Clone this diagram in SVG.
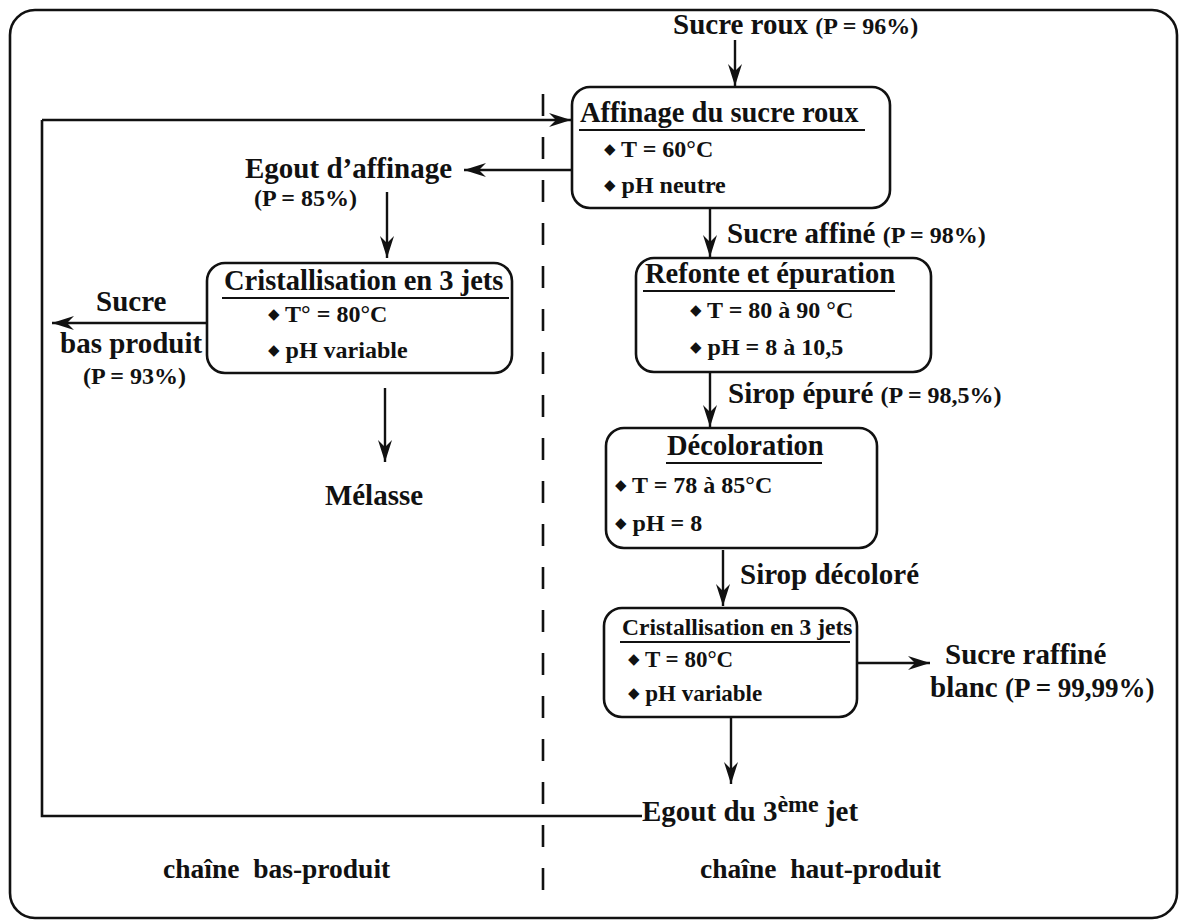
<svg xmlns="http://www.w3.org/2000/svg" width="1181" height="924" viewBox="0 0 1181 924">
<style>
.t{font-family:"Liberation Serif","Times New Roman",serif;font-weight:bold;fill:#111}
.lbl{font-size:29px}
.ft{font-size:27.5px}
.ttl{font-size:28.5px}
.ttl2{font-size:23.5px}
.p{font-size:24px}
.p2{font-size:27px}
.b{font-size:24px}
.b2{font-size:23px}
.dot{font-family:"DejaVu Sans",sans-serif;font-size:15px;baseline-shift:3px}
.box{fill:none;stroke:#111;stroke-width:2.6}
.ln{fill:none;stroke:#111;stroke-width:2.6}
.ul{stroke:#111;stroke-width:2.2}
.arr{fill:none;stroke:#111;stroke-width:2.4;marker-end:url(#ah)}
</style>
<defs>
<marker id="ah" markerUnits="userSpaceOnUse" markerWidth="26" markerHeight="16" refX="22" refY="7" orient="auto">
<path d="M0,0 L22,7 L0,14 L7,7 z" fill="#111"/>
</marker>
</defs>
<rect width="1181" height="924" fill="#fff"/>
<rect id="frame" class="box" x="10" y="10" width="1167" height="908" rx="25"/>

<g id="connectors">
<path class="ln" d="M42,120 L42,816 L642,816"/>
<path class="arr" d="M42,120 L571,120"/>
<line x1="543" y1="94" x2="543" y2="900" stroke="#111" stroke-width="2.6" stroke-dasharray="22 21"/>
<path class="arr" d="M735,40 L735,86"/>
<path class="arr" d="M572,170 L464,170"/>
<path class="arr" d="M387,192 L387,258"/>
<path class="arr" d="M207,323 L52,323"/>
<path class="arr" d="M385,388 L385,462"/>
<path class="arr" d="M710,208 L710,257"/>
<path class="arr" d="M710,372 L710,427"/>
<path class="arr" d="M723,550 L723,606"/>
<path class="arr" d="M857,663 L930,663"/>
<path class="arr" d="M731,718 L731,784"/>
</g>

<g id="sucre-roux"><text class="t lbl" x="673" y="34">Sucre roux <tspan class="p">(P = 96%)</tspan></text></g>

<g id="affinage">
<rect class="box" x="572" y="87" width="318" height="121" rx="18"/>
<text class="t ttl" x="580" y="122">Affinage du sucre roux</text>
<line class="ul" x1="579" y1="130" x2="865" y2="130"/>
<text class="t b" x="604" y="157"><tspan class="dot">◆</tspan> T = 60°C</text>
<text class="t b" x="604" y="193"><tspan class="dot">◆</tspan> pH neutre</text>
</g>

<g id="egout-affinage">
<text class="t lbl" x="245" y="178">Egout d’affinage</text>
<text class="t p" x="254" y="206">(P = 85%)</text>
</g>

<g id="cristallisation-bas">
<rect class="box" x="207" y="263" width="305" height="110" rx="18"/>
<text class="t ttl" x="224" y="290">Cristallisation en 3 jets</text>
<line class="ul" x1="222" y1="298" x2="509" y2="298"/>
<text class="t b" x="268" y="322"><tspan class="dot">◆</tspan> T° = 80°C</text>
<text class="t b" x="268" y="358"><tspan class="dot">◆</tspan> pH variable</text>
</g>

<g id="sucre-bas-produit">
<text class="t lbl" x="96" y="311">Sucre</text>
<text class="t lbl" x="60" y="353">bas produit</text>
<text class="t p" x="83" y="384">(P = 93%)</text>
</g>

<g id="melasse"><text class="t lbl" x="374" y="505" text-anchor="middle">Mélasse</text></g>

<g id="sucre-affine"><text class="t lbl" x="727" y="243">Sucre affiné <tspan class="p">(P = 98%)</tspan></text></g>

<g id="refonte">
<rect class="box" x="636" y="258" width="295" height="114" rx="18"/>
<text class="t ttl" x="645" y="283">Refonte et épuration</text>
<line class="ul" x1="643" y1="291" x2="895" y2="291"/>
<text class="t b" x="690" y="318"><tspan class="dot">◆</tspan> T = 80 à 90 °C</text>
<text class="t b" x="690" y="355"><tspan class="dot">◆</tspan> pH = 8 à 10,5</text>
</g>

<g id="sirop-epure"><text class="t lbl" x="728" y="403">Sirop épuré <tspan class="p">(P = 98,5%)</tspan></text></g>

<g id="decoloration">
<rect class="box" x="606" y="428" width="271" height="120" rx="18"/>
<text class="t ttl" x="667" y="455">Décoloration</text>
<line class="ul" x1="666" y1="463" x2="822" y2="463"/>
<text class="t b" x="615" y="493"><tspan class="dot">◆</tspan> T = 78 à 85°C</text>
<text class="t b" x="615" y="531"><tspan class="dot">◆</tspan> pH = 8</text>
</g>

<g id="sirop-decolore"><text class="t lbl" x="740" y="584">Sirop décoloré</text></g>

<g id="cristallisation-haut">
<rect class="box" x="604" y="608" width="253" height="109" rx="18"/>
<text class="t ttl2" x="622" y="635">Cristallisation en 3 jets</text>
<line class="ul" x1="620" y1="642" x2="850" y2="642"/>
<text class="t b2" x="628" y="667"><tspan class="dot">◆</tspan> T = 80°C</text>
<text class="t b2" x="628" y="701"><tspan class="dot">◆</tspan> pH variable</text>
</g>

<g id="sucre-raffine">
<text class="t lbl" x="945" y="664">Sucre raffiné</text>
<text class="t lbl" x="930" y="697">blanc <tspan class="p2">(P = 99,99%)</tspan></text>
</g>

<g id="egout-3eme"><text class="t lbl" x="642" y="821">Egout du 3<tspan class="p" dy="-9">ème</tspan><tspan dy="9"> jet</tspan></text></g>

<g id="chaines">
<text class="t ft" x="163" y="878" xml:space="preserve">chaîne  bas-produit</text>
<text class="t ft" x="700" y="878" xml:space="preserve">chaîne  haut-produit</text>
</g>
</svg>
